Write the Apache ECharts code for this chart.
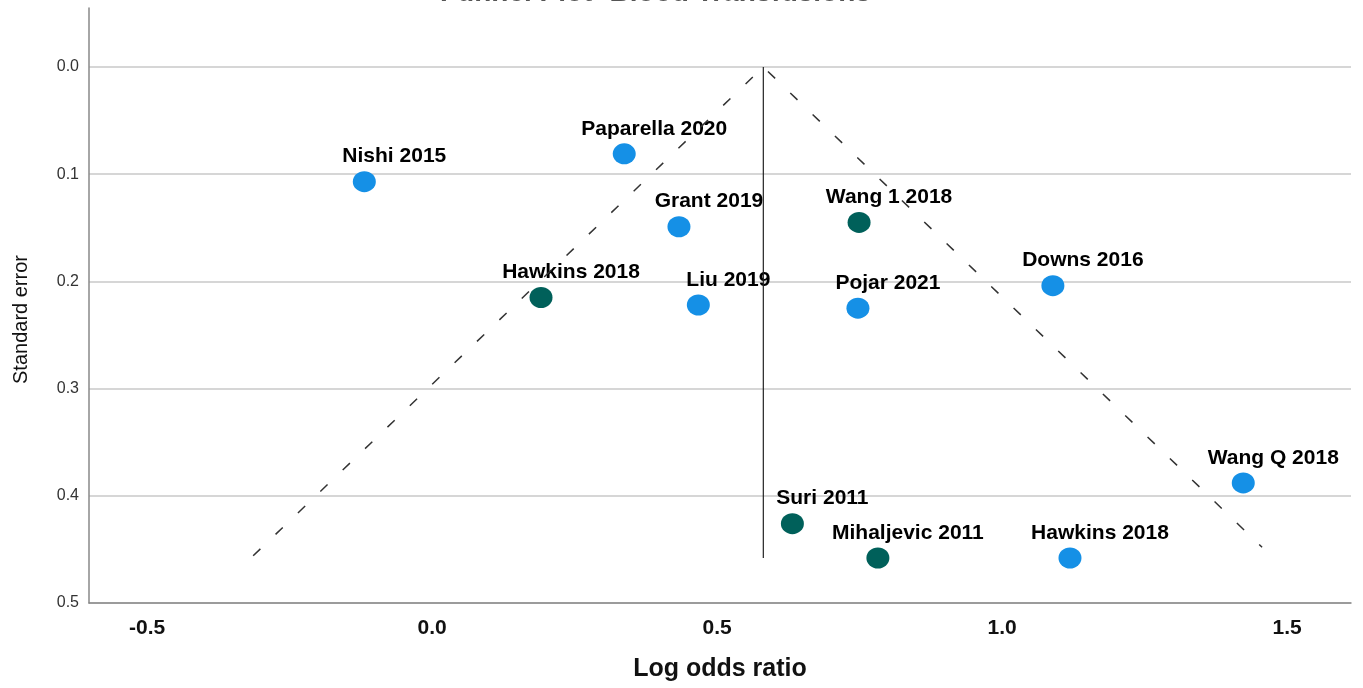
<!DOCTYPE html>
<html>
<head>
<meta charset="utf-8">
<script src="https://cdn.jsdelivr.net/npm/echarts@6/dist/echarts.min.js"></script>
<style>html,body{margin:0;padding:0;background:#fff;}#c{width:1363px;height:688px;}</style>
</head>
<body>
<div id="c"></div>
<script>
const studyNames = ["Nishi 2015","Paparella 2020","Grant 2019","Wang 1 2018","Hawkins 2018","Liu 2019","Pojar 2021","Downs 2016","Wang Q 2018","Suri 2011","Mihaljevic 2011","Hawkins 2018"];
const logOdds    = [-0.119, 0.337, 0.433, 0.749, 0.191, 0.467, 0.747, 1.089, 1.423, 0.632, 0.782, 1.119];
const stdErr     = [0.107, 0.081, 0.149, 0.145, 0.215, 0.222, 0.225, 0.204, 0.388, 0.426, 0.458, 0.458];
const studyGroup = [0, 0, 0, 1, 1, 0, 0, 0, 0, 1, 1, 0];
const pooledEffect = 0.581;
const funnelLeft  = [-0.314, 0.456];
const funnelRight = [1.456, 0.448];
const funnelBottomSE = 0.458;
const yTicks = [0.0, 0.1, 0.2, 0.3, 0.4, 0.5];
const xTicks = [-0.5, 0.0, 0.5, 1.0, 1.5];
const groupColors = ["#1590e6", "#00605a"];

const pts = studyNames.map((n, i) => ({
  name: n,
  value: [logOdds[i], stdErr[i]],
  itemStyle: { color: groupColors[studyGroup[i]], opacity: 1 }
}));

const chart = echarts.init(document.getElementById('c'));
const narrow = "'Liberation Sans Narrow', 'Arial Narrow', 'Liberation Sans', Arial, sans-serif";
chart.setOption({
  animation: false,
  title: {
    text: 'Funnel Plot- Blood Transfusions',
    left: 435, top: -26,
    textStyle: { fontFamily: 'Liberation Sans, Arial', fontWeight: 'bold', fontSize: 28, color: '#555' }
  },
  grid: { left: 89, right: 12, top: 8, bottom: 85 },
  xAxis: {
    type: 'value', min: -0.602, max: 1.612,
    name: 'Log odds ratio', nameLocation: 'middle', nameGap: 54,
    nameTextStyle: { fontFamily: narrow, fontWeight: 'bold', fontSize: 25, color: '#111' },
    axisLine: { show: true, onZero: false, lineStyle: { color: '#888', width: 1.5 } },
    axisTick: { show: false, customValues: xTicks },
    axisLabel: { customValues: xTicks, formatter: v => v.toFixed(1), margin: 15, fontFamily: narrow, fontWeight: 'bold', fontSize: 21, color: '#111' },
    splitLine: { show: false }
  },
  yAxis: {
    type: 'value', inverse: true, min: -0.055, max: 0.5,
    name: 'Standard error', nameLocation: 'middle', nameGap: 58,
    nameTextStyle: { fontFamily: narrow, fontSize: 20, color: '#111', padding: [0, 28, 0, 0] },
    axisLine: { show: true, onZero: false, lineStyle: { color: '#888', width: 1.5 } },
    axisTick: { show: false, customValues: yTicks },
    axisLabel: { customValues: yTicks, formatter: v => v.toFixed(1), margin: 10, fontFamily: 'Liberation Sans, Arial', fontSize: 16, color: '#333' },
    splitLine: { show: true, lineStyle: { color: '#c8c8c8', width: 1.5 } }
  },
  series: [
    {
      type: 'line', silent: true, symbol: 'none',
      data: [funnelLeft, [pooledEffect, 0], funnelRight],
      lineStyle: { color: '#333', width: 1.5, type: [10, 21] }
    },
    {
      type: 'line', silent: true, symbol: 'none',
      data: [[pooledEffect, 0], [pooledEffect, funnelBottomSE]],
      lineStyle: { color: '#222', width: 1.2 }
    },
    {
      type: 'scatter', symbol: 'circle', symbolSize: [23, 21],
      data: pts,
      label: {
        show: true, position: 'top', distance: 4, offset: [30, 0],
        formatter: p => p.name,
        fontFamily: 'Liberation Sans, Arial', fontWeight: 'bold', fontSize: 21, color: '#000', opacity: 1
      }
    }
  ]
});
</script>
</body>
</html>
